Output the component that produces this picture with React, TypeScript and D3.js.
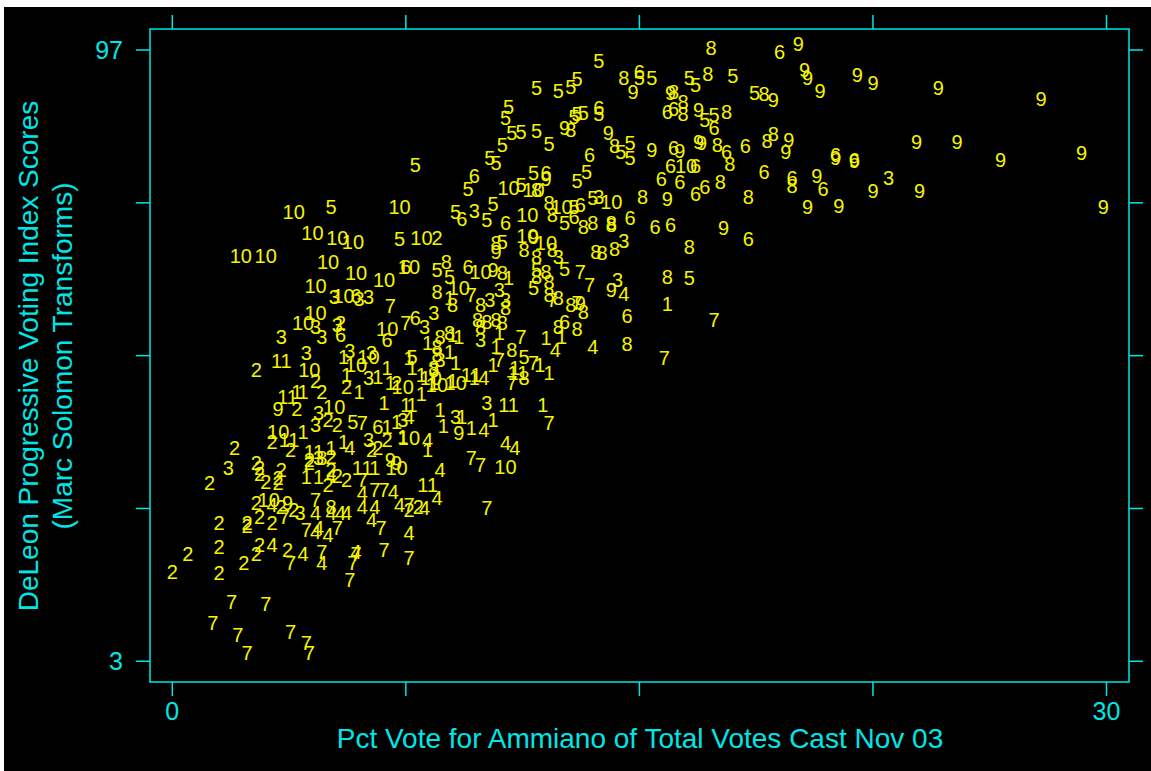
import React from 'react';
import * as d3 from 'd3';

// Each array: [pct vote for Ammiano, DeLeon progressive index] for one district label
const d1: [number, number][] = [[15.9,57.9],[12.0,52.7],[12.5,52.9],[10.5,53.5],[9.2,52.9],[9.0,53.2],[10.8,61.9],[8.9,58.9],[10.4,51.3],[11.8,48.6],[12.1,47.3],[10.3,48.6],[11.0,48.2],[9.7,46.6],[9.1,48.9],[8.9,50.6],[9.0,46.2],[11.9,42.4],[9.6,38.9],[10.3,40.1],[9.3,40.6],[8.2,35.5],[6.9,39.0],[7.2,39.8],[6.8,42.7],[7.5,42.4],[7.7,42.4],[5.5,49.8],[6.9,48.1],[7.6,49.6],[7.7,48.2],[6.0,44.4],[4.0,44.4],[4.2,44.4],[6.6,46.7],[7.0,45.9],[5.6,47.0],[3.6,37.0],[3.9,37.0],[4.2,38.3],[4.4,35.2],[4.7,35.2],[5.1,35.8],[5.5,36.7],[7.4,37.5],[4.3,31.3],[4.7,31.3],[6.5,32.7],[8.2,51.9],[8.4,45.9],[8.0,44.2],[8.7,39.2],[8.0,47.0],[8.6,41.6]];
const d2: [number, number][] = [[2.7,47.9],[2.0,35.8],[3.2,36.7],[3.8,35.5],[2.7,33.6],[2.8,32.7],[2.8,31.9],[3.5,32.4],[3.4,31.2],[3.0,30.6],[3.4,30.4],[1.2,30.4],[4.4,34.0],[5.1,34.4],[4.4,33.5],[5.1,32.4],[5.3,31.6],[5.0,30.1],[5.6,30.9],[2.7,27.3],[3.5,26.7],[3.9,26.3],[1.5,24.3],[2.4,24.3],[2.4,23.9],[2.8,25.2],[3.2,24.3],[0.5,19.6],[1.5,20.6],[0.0,16.7],[1.5,16.6],[2.3,18.1],[2.7,19.6],[2.8,20.9],[3.7,20.1],[4.6,46.2],[5.6,45.2],[7.2,45.9],[4.8,44.4],[4.0,41.9],[5.0,40.1],[5.3,39.3],[6.4,35.5],[6.6,35.9],[6.9,37.0],[7.6,26.3],[7.9,26.7],[5.4,55.0],[8.5,68.1]];
const d3pts: [number, number][] = [[5.2,59.0],[6.0,58.7],[6.3,59.0],[4.6,54.4],[5.3,54.7],[4.8,52.9],[3.5,52.9],[4.3,50.4],[5.7,50.7],[6.4,50.4],[6.3,46.6],[4.7,41.2],[4.6,39.3],[6.3,37.0],[1.8,32.7],[4.7,34.3],[4.1,25.8],[7.4,40.1],[9.7,72.2],[13.7,74.4],[12.4,65.2],[14.5,67.6],[14.3,61.6],[10.5,60.1],[10.2,58.6],[10.7,58.6],[9.9,52.4],[8.4,56.6],[8.1,54.4],[8.6,49.3],[8.4,47.8],[10.1,42.7],[9.1,40.6],[23.0,77.3]];
const d4: [number, number][] = [[14.5,59.5],[12.3,50.9],[13.5,51.3],[10.0,46.6],[10.0,38.6],[10.7,36.6],[11.0,35.8],[8.6,32.4],[8.5,28.1],[8.1,26.6],[8.2,37.0],[7.6,40.6],[5.7,35.8],[5.1,31.6],[6.1,28.9],[7.1,29.0],[6.1,26.7],[6.5,26.7],[7.3,27.0],[3.2,27.0],[4.6,25.8],[5.1,25.8],[5.4,25.8],[5.6,25.8],[4.6,22.9],[4.7,23.5],[5.0,22.4],[6.4,24.7],[7.6,22.7],[3.2,20.9],[4.2,19.6],[4.8,18.1],[5.9,19.8]];
const d5: [number, number][] = [[13.7,95.3],[11.7,91.2],[12.4,90.8],[12.8,91.3],[13.0,92.5],[15.0,92.7],[15.4,92.8],[16.6,92.7],[16.8,91.6],[10.8,88.2],[10.7,86.5],[10.9,84.2],[11.2,84.4],[11.7,84.5],[10.6,82.4],[12.1,82.5],[10.2,80.4],[10.4,79.6],[7.8,79.3],[12.9,86.7],[13.0,87.2],[13.2,87.3],[13.7,87.2],[14.4,81.3],[14.7,82.7],[14.7,80.4],[11.6,78.1],[13.3,78.2],[13.0,76.9],[9.5,75.6],[11.2,76.2],[13.5,74.2],[12.9,72.9],[9.1,72.1],[10.3,73.3],[10.1,70.9],[12.6,70.5],[10.6,67.5],[8.5,63.2],[8.9,62.1],[11.7,63.2],[12.6,63.3],[11.6,60.4],[16.6,61.9],[11.3,49.8],[5.1,72.9],[7.3,67.9],[7.7,49.8],[5.8,39.8],[17.1,86.2],[17.4,87.0],[18.0,93.0],[18.7,90.4]];
const d6: [number, number][] = [[19.5,96.7],[15.0,93.6],[13.7,88.1],[15.9,87.5],[16.1,87.9],[9.7,77.6],[13.4,80.9],[12.0,78.1],[16.1,81.9],[16.0,79.2],[16.8,79.2],[15.7,77.2],[16.3,76.7],[13.1,73.2],[16.8,74.9],[9.3,71.0],[10.7,70.4],[12.9,71.3],[14.7,71.2],[15.5,69.8],[16.0,70.1],[9.5,63.6],[12.6,55.2],[14.6,56.2],[17.8,81.3],[18.4,82.2],[17.4,85.0],[19.0,78.2],[19.9,77.3],[20.9,75.6],[21.3,80.9],[21.9,80.1],[18.5,67.9],[7.5,63.6],[5.9,59.2],[5.4,53.2],[6.9,52.4],[7.8,55.8],[6.6,39.0],[17.1,75.9]];
const d7: [number, number][] = [[17.4,55.5],[15.8,49.6],[12.1,39.6],[9.6,34.3],[9.9,33.2],[10.1,26.6],[11.2,52.9],[11.6,48.9],[10.5,49.3],[10.9,45.8],[12.2,58.6],[13.0,58.1],[13.1,62.9],[13.4,60.9],[9.6,59.3],[7.0,57.6],[7.5,55.0],[6.1,39.6],[6.1,30.9],[6.5,29.3],[6.8,29.3],[7.6,27.0],[3.6,25.2],[4.3,23.2],[5.3,23.5],[6.7,23.5],[3.8,18.1],[4.8,19.8],[5.8,18.1],[6.8,20.1],[7.6,18.9],[5.7,15.5],[1.9,12.1],[3.0,11.9],[1.3,8.9],[2.1,7.0],[3.8,7.5],[4.3,5.9],[2.4,4.3],[4.4,4.3],[4.6,27.8],[5.9,19.6]];
const d8: [number, number][] = [[17.3,97.3],[14.5,92.7],[16.1,90.5],[16.4,89.0],[16.4,87.2],[17.2,93.3],[17.8,87.5],[19.0,90.2],[12.8,84.7],[14.2,82.2],[17.5,82.4],[17.9,79.5],[19.1,83.0],[19.3,84.1],[17.6,76.7],[18.5,74.5],[19.9,76.1],[11.7,75.5],[12.1,73.5],[12.2,71.6],[13.2,69.8],[13.5,70.4],[14.1,70.4],[14.1,70.1],[15.1,74.5],[10.4,67.3],[11.3,66.2],[12.2,66.2],[11.7,65.2],[13.6,65.9],[13.8,65.8],[14.2,66.5],[16.6,66.7],[8.8,64.4],[10.6,62.7],[11.7,62.1],[12.0,62.9],[12.1,61.3],[15.9,62.2],[8.5,59.8],[12.1,59.3],[12.4,58.9],[12.8,57.8],[13.2,56.7],[9.0,57.8],[9.9,57.8],[10.7,57.3],[9.8,55.5],[10.1,55.2],[10.4,55.5],[10.6,55.0],[9.9,54.4],[12.4,54.4],[13.0,54.2],[8.6,52.9],[8.9,53.5],[8.5,51.3],[8.5,50.1],[8.4,48.2],[14.6,51.8],[10.9,50.9],[11.3,46.6],[5.1,26.7],[4.8,34.3]];
const d9: [number, number][] = [[20.1,97.9],[14.8,90.5],[16.0,90.4],[16.9,87.8],[12.6,85.0],[14.0,84.2],[15.4,81.6],[16.3,81.5],[16.9,82.9],[20.3,93.9],[20.4,92.8],[22.0,93.2],[22.5,91.9],[24.6,91.2],[19.3,89.3],[20.8,90.8],[17.0,82.7],[19.8,83.2],[19.7,81.3],[21.3,80.5],[21.9,79.9],[23.9,82.9],[25.2,82.9],[26.6,80.1],[27.9,89.5],[29.2,81.2],[20.7,77.6],[22.5,75.3],[24.0,75.3],[20.4,72.9],[21.4,73.0],[29.9,72.9],[17.7,69.6],[15.9,74.1],[12.0,77.2],[10.4,65.9],[11.6,68.2],[10.3,63.2],[14.1,60.2],[9.2,38.1],[7.0,34.0],[7.2,33.6],[3.4,41.9],[3.7,27.3],[13.1,58.1]];
const d10: [number, number][] = [[3.9,72.1],[7.3,72.9],[4.5,68.9],[5.3,68.1],[5.8,67.5],[2.2,65.3],[3.0,65.3],[5.0,64.4],[5.9,62.7],[6.8,61.6],[4.6,60.7],[5.5,59.2],[4.6,56.6],[4.2,55.0],[6.9,54.2],[5.9,48.6],[4.4,47.8],[7.4,45.2],[3.4,38.3],[7.6,37.3],[7.2,32.7],[3.1,27.8],[10.7,32.9],[8.0,68.1],[7.6,63.6],[10.8,75.8],[11.6,75.5],[11.4,71.6],[12.5,72.9],[14.1,73.6],[11.4,68.5],[12.0,67.3],[9.9,62.9],[9.2,60.4],[16.5,79.2],[8.3,46.6],[9.1,45.8],[5.2,42.1],[6.3,49.8],[8.5,45.5]];
const d11: [number, number][] = [[3.5,49.2],[6.1,32.7],[8.2,30.1],[10.8,42.4],[11.1,47.3],[3.7,43.6],[9.6,47.0]];

const districtLabels = ['1','2','3','4','5','6','7','8','9','10','11'];
const districtPoints = [d1, d2, d3pts, d4, d5, d6, d7, d8, d9, d10, d11];

const xTicks = [0, 7.5, 15, 22.5, 30];
const xTickLabels = ['0', '', '', '', '30'];
const yTicks = [97, 73.5, 50, 26.5, 3];
const yTickLabels = ['97', '', '', '', '3'];

const xTitle = 'Pct Vote for Ammiano of Total Votes Cast Nov 03';
const yTitle1 = 'DeLeon Progressive Voting Index Scores';
const yTitle2 = '(Marc Solomon Transforms)';

const W = 1151, H = 771;
const frame = { left: 150, right: 1129, top: 29, bottom: 682 };
const CYAN = '#00e6e6';
const YELLOW = '#f5f500';
const FONT = '"Liberation Sans", Arial, Helvetica, sans-serif';

export default function App() {
  const x = d3.scaleLinear().domain([0, 30]).range([172.3, 1106.5]);
  const y = d3.scaleLinear().domain([3, 97]).range([661.3, 50]);
  const tickLen = 14;

  const points = districtPoints.flatMap((pts, i) =>
    pts.map(([vx, vy]) => ({ label: districtLabels[i], vx, vy }))
  );

  return (
    <svg width={W} height={H} style={{ position: 'absolute', left: 0, top: 0 }} fontFamily={FONT}>
      <rect x={0} y={0} width={W} height={H} fill="#ffffff" />
      <rect x={4} y={7} width={W - 4} height={H - 7} fill="#000000" />
      <rect x={frame.left} y={frame.top} width={frame.right - frame.left} height={frame.bottom - frame.top}
        fill="none" stroke={CYAN} strokeWidth={1.5} />
      {xTicks.map((t, i) => (
        <g key={'xt' + i}>
          <line x1={x(t)} x2={x(t)} y1={frame.bottom} y2={frame.bottom + tickLen} stroke={CYAN} strokeWidth={1.5} />
          <line x1={x(t)} x2={x(t)} y1={frame.top} y2={frame.top - tickLen} stroke={CYAN} strokeWidth={1.5} />
          {xTickLabels[i] && (
            <text x={x(t)} y={720} textAnchor="middle" fill={CYAN} fontSize={25}>{xTickLabels[i]}</text>
          )}
        </g>
      ))}
      {yTicks.map((t, i) => (
        <g key={'yt' + i}>
          <line x1={frame.left} x2={frame.left - tickLen} y1={y(t)} y2={y(t)} stroke={CYAN} strokeWidth={1.5} />
          <line x1={frame.right} x2={frame.right + tickLen} y1={y(t)} y2={y(t)} stroke={CYAN} strokeWidth={1.5} />
          {yTickLabels[i] && (
            <text x={123} y={y(t)} dy="0.36em" textAnchor="end" fill={CYAN} fontSize={25}>{yTickLabels[i]}</text>
          )}
        </g>
      ))}
      <text x={640} y={748} textAnchor="middle" fill={CYAN} fontSize={28}>{xTitle}</text>
      <text transform="translate(38,356) rotate(-90)" textAnchor="middle" fill={CYAN} fontSize={28}>{yTitle1}</text>
      <text transform="translate(72,356) rotate(-90)" textAnchor="middle" fill={CYAN} fontSize={28}>{yTitle2}</text>
      <g fill={YELLOW} fontSize={20} textAnchor="middle">
        {points.map((p, i) => (
          <text key={i} x={x(p.vx)} y={y(p.vy)} dy="0.36em">{p.label}</text>
        ))}
      </g>
    </svg>
  );
}
